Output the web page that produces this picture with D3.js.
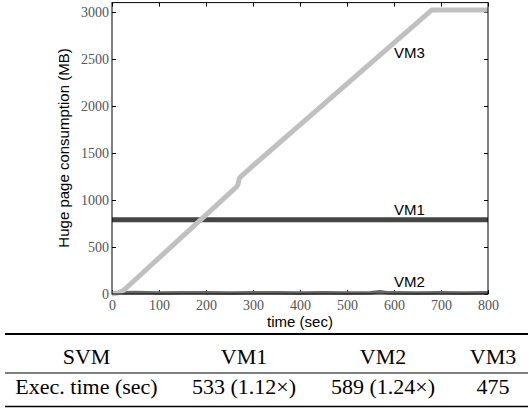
<!DOCTYPE html>
<meta charset="utf-8">
<style>
body { margin: 0; background: #fff; }
.axis path { stroke: none; }
.axis line { stroke: #000; }
.axis text { font-family: "Liberation Serif", "Times New Roman", serif !important; font-size: 14px; fill: #555; }
.lbl { font-family: "Liberation Sans", Arial, sans-serif; font-size: 15px; fill: #000; }
.tbl { font-family: "Liberation Serif", "Times New Roman", serif; font-size: 22px; fill: #000; }
</style>
<body>
<svg width="528" height="408"></svg>
<script src="https://d3js.org/d3.v7.min.js"></script>
<script>

// data
var xTicks = [0, 100, 200, 300, 400, 500, 600, 700, 800];
var yTicks = [0, 500, 1000, 1500, 2000, 2500, 3000];

var vm1Time = [0, 800];
var vm1Mem = [790, 790];

var vm2Time = [0, 25, 50, 75, 100, 150, 200, 250, 300, 350, 400, 450, 500, 550, 570, 590, 650, 700, 750, 800];
var vm2Mem  = [12, 14, 16, 12, 10, 14, 12, 10, 14, 12, 10, 12, 10, 14, 24, 12, 10, 12, 10, 12];

var vm3Time = [0, 12, 25, 265, 268, 271, 275, 680, 800];
var vm3Mem  = [0, 10, 40, 1140, 1165, 1230, 1255, 3020, 3020];

var seriesNames = ["VM1", "VM2", "VM3"];
var labelAt = [[600, 840], [600, 75], [600, 2510]];

var tableHeader = ["SVM", "VM1", "VM2", "VM3"];
var tableRow = ["Exec. time (sec)", "533 (1.12\u00d7)", "589 (1.24\u00d7)", "475"];

var svg = d3.select("svg");

var x = d3.scaleLinear().domain([0, 800]).range([112, 488]);
var y = d3.scaleLinear().domain([0, 3100]).range([294, 2.6]);

function pts(t, v) {
  return t.map(function(d, i) { return [d, v[i]]; });
}

var line = d3.line()
    .x(function(d) { return x(d[0]); })
    .y(function(d) { return y(d[1]); });

function tickFont(g) {
  g.attr("font-family", null).attr("font-size", null);
  g.selectAll("text")
      .style("font-family", "Liberation Serif, Times New Roman, serif")
      .style("font-size", "14px")
      .attr("fill", "#555");
}

// axes, ticks pointing inward
svg.append("g").attr("class", "axis")
    .attr("transform", "translate(0,294)")
    .call(d3.axisBottom(x).tickValues(xTicks).tickSize(-4).tickPadding(6).tickFormat(d3.format("d")))
    .call(tickFont);
svg.append("g").attr("class", "axis")
    .attr("transform", "translate(0,2.6)")
    .call(d3.axisTop(x).tickValues(xTicks).tickSize(-4).tickFormat(""));
svg.append("g").attr("class", "axis")
    .attr("transform", "translate(112,0)")
    .call(d3.axisLeft(y).tickValues(yTicks).tickSize(-4).tickPadding(3).tickFormat(d3.format("d")))
    .call(tickFont);
svg.append("g").attr("class", "axis")
    .attr("transform", "translate(488,0)")
    .call(d3.axisRight(y).tickValues(yTicks).tickSize(-4).tickFormat(""));

svg.selectAll(".axis .tick").filter(function(d) { return d == 0 || d == 800; })
    .select("line").attr("stroke", "none");

// series
svg.append("path").attr("d", line(pts(vm2Time, vm2Mem)))
    .attr("fill", "none").attr("stroke", "#666").attr("stroke-width", 3.5);
svg.append("path").attr("d", line(pts(vm1Time, vm1Mem)))
    .attr("fill", "none").attr("stroke", "#454545").attr("stroke-width", 5);
svg.append("path").attr("d", line(pts(vm3Time, vm3Mem)))
    .attr("fill", "none").attr("stroke", "#c0c0c0").attr("stroke-width", 5)
    .attr("stroke-linejoin", "round");

// frame
svg.append("rect")
    .attr("x", 112).attr("y", y(3100))
    .attr("width", 376).attr("height", 294 - y(3100))
    .attr("fill", "none").attr("stroke", "#000").attr("stroke-width", 1);

svg.selectAll(".vmlbl").data(seriesNames).enter().append("text")
    .attr("class", "lbl")
    .attr("x", function(d, i) { return x(labelAt[i][0]); })
    .attr("y", function(d, i) { return y(labelAt[i][1]); })
    .text(function(d) { return d; });

svg.append("text").attr("class", "lbl")
    .attr("x", 300).attr("y", 327).attr("text-anchor", "middle")
    .text("time (sec)");
svg.append("text").attr("class", "lbl")
    .attr("transform", "translate(69,148) rotate(-90)")
    .attr("text-anchor", "middle")
    .text("Huge page consumption (MB)");

// table under the chart
var colX = [86.5, 244, 383, 493];
svg.append("line").attr("x1", 5).attr("x2", 528).attr("y1", 334).attr("y2", 334)
    .attr("stroke", "#000").attr("stroke-width", 2);
svg.append("line").attr("x1", 5).attr("x2", 528).attr("y1", 373).attr("y2", 373)
    .attr("stroke", "#000").attr("stroke-width", 1);
svg.append("line").attr("x1", 5).attr("x2", 528).attr("y1", 406.5).attr("y2", 406.5)
    .attr("stroke", "#000").attr("stroke-width", 1.5);

svg.selectAll(".th").data(tableHeader).enter().append("text")
    .attr("class", "tbl")
    .attr("x", function(d, i) { return colX[i]; })
    .attr("y", 364).attr("text-anchor", "middle")
    .text(function(d) { return d; });
svg.selectAll(".td").data(tableRow).enter().append("text")
    .attr("class", "tbl")
    .attr("x", function(d, i) { return colX[i]; })
    .attr("y", 394).attr("text-anchor", "middle")
    .text(function(d) { return d; });

</script>
</body>
</html>
